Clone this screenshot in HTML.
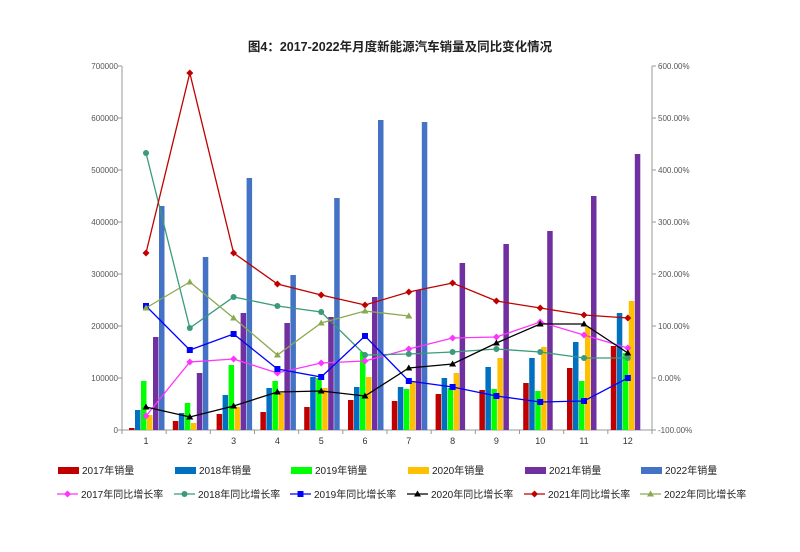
<!DOCTYPE html>
<html><head><meta charset="utf-8"><style>
body{margin:0;background:#fff;width:800px;height:547px;overflow:hidden}
svg{font-family:"Liberation Sans","Noto Sans CJK SC",sans-serif}
</style></head><body>
<svg id="s" width="800" height="547" xmlns="http://www.w3.org/2000/svg">
<text x="400" y="51" text-anchor="middle" font-size="12.5" font-weight="bold" fill="#222">图4：2017-2022年月度新能源汽车销量及同比变化情况</text>
<g id="g"></g>
</svg>
<script>
var g=document.getElementById('g'),h='';
var L=122,R=652,Y0=430,T=66;
function cx(i){return 146+i*43.8;}
// axes
h+='<line x1="'+L+'" y1="'+T+'" x2="'+L+'" y2="'+Y0+'" stroke="#999" stroke-width="1"/>';
h+='<line x1="'+R+'" y1="'+T+'" x2="'+R+'" y2="'+Y0+'" stroke="#999" stroke-width="1"/>';
h+='<line x1="'+L+'" y1="'+Y0+'" x2="'+R+'" y2="'+Y0+'" stroke="#999" stroke-width="1"/>';
for(var k=0;k<=7;k++){var y=Y0-k*52;
h+='<line x1="'+(L-4)+'" y1="'+y+'" x2="'+L+'" y2="'+y+'" stroke="#999"/>';
h+='<text x="'+(L-4)+'" y="'+(y+3)+'" font-size="8" fill="#555" text-anchor="end">'+(k*100000)+'</text>';
var p=(k-1)*100;
h+='<line x1="'+R+'" y1="'+y+'" x2="'+(R+4)+'" y2="'+y+'" stroke="#999"/>';
h+='<text x="'+(R+6)+'" y="'+(y+3)+'" font-size="8" fill="#555">'+p.toFixed(2)+'%</text>';}
for(var i=0;i<=12;i++){var x=L+i*530/12;h+='<line x1="'+x+'" y1="'+Y0+'" x2="'+x+'" y2="'+(Y0+4)+'" stroke="#999"/>';}
for(var i=0;i<12;i++)h+='<text x="'+cx(i)+'" y="444" font-size="9" fill="#333" text-anchor="middle">'+(i+1)+'</text>';
var cols=['#c00000','#0070c0','#00ff00','#ffc000','#7030a0','#4472c4'];
var bars=[
[428,421,414,412,407,400,401,394,390,383,368,346],
[410,413,395,388,377,387,387,378,367,358,342,313],
[381,403,365,381,378,352,389,388,389,391,381,353],
[415,423,407,393,388,377,382,373,358,347,327,301],
[337,373,313,323,317,297,290,263,244,231,196,154],
[206,257,178,275,198,120,122]];
for(var s=0;s<6;s++)for(var i=0;i<bars[s].length;i++){var x=cx(i)-17+s*6;var ofs=(i>=7&&s==4)?0:0;
h+='<rect x="'+x+'" y="'+bars[s][i]+'" width="5.5" height="'+(Y0-bars[s][i])+'" fill="'+cols[s]+'"/>';}
var lines=[
['#ff33ff','d',[416,362,359,373,363,361,349,338,337,322,335,348]],
['#3a9a7a','c',[153,328,297,306,312,355,354,352,349,352,358,358]],
['#0000ff','s',[306,350,334,369,377,336,381,387,396,402,401,378]],
['#000000','t',[407,417,406,392,391,396,368,364,343,324,324,353]],
['#c00000','d',[253,73,253,284,295,305,292,283,301,308,315,318]],
['#8aaa50','t',[308,282,318,355,323,311,316]]];
function mk(t,x,y,c){if(t=='d')return '<path d="M'+x+' '+(y-3.5)+'L'+(x+3.5)+' '+y+'L'+x+' '+(y+3.5)+'L'+(x-3.5)+' '+y+'Z" fill="'+c+'"/>';
if(t=='c')return '<circle cx="'+x+'" cy="'+y+'" r="3" fill="'+c+'"/>';
if(t=='s')return '<rect x="'+(x-3)+'" y="'+(y-3)+'" width="6" height="6" fill="'+c+'"/>';
return '<path d="M'+x+' '+(y-3.5)+'L'+(x+3.5)+' '+(y+2.5)+'L'+(x-3.5)+' '+(y+2.5)+'Z" fill="'+c+'"/>';}
for(var s=0;s<6;s++){var l=lines[s],pts=l[2].map(function(v,i){return cx(i)+','+v}).join(' ');
h+='<polyline points="'+pts+'" fill="none" stroke="'+l[0]+'" stroke-width="1.3"/>';
for(var i=0;i<l[2].length;i++)h+=mk(l[1],cx(i),l[2][i],l[0]);}
// legend
var lx=[58,175,291,408,525,641];
for(var s=0;s<6;s++){h+='<rect x="'+lx[s]+'" y="467" width="21" height="7" fill="'+cols[s]+'"/>';
h+='<text x="'+(lx[s]+24)+'" y="474" font-size="10" fill="#222">'+(2017+s)+'年销量</text>';
var c=lines[s][0];h+='<line x1="'+(lx[s]-1)+'" y1="494" x2="'+(lx[s]+20)+'" y2="494" stroke="'+c+'" stroke-width="1.2"/>'+mk(lines[s][1],lx[s]+9.5,494,c);
h+='<text x="'+(lx[s]+23)+'" y="498" font-size="10" fill="#222">'+(2017+s)+'年同比增长率</text>';}
g.innerHTML=h;
</script>
</body></html>
